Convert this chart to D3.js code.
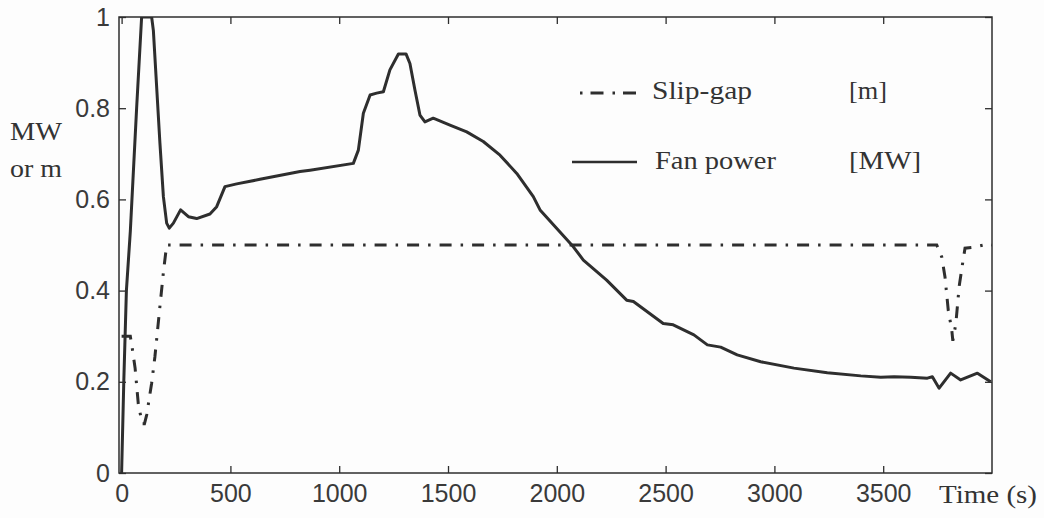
<!DOCTYPE html>
<html>
<head>
<meta charset="utf-8">
<script src="https://cdn.jsdelivr.net/npm/d3@7/dist/d3.min.js"></script>
<style>
  html, body { margin: 0; padding: 0; background: #fdfdfd; }
  svg { display: block; }
</style>
</head>
<body>
<svg id="chart" width="1044" height="518"></svg>
<script>
// Fan power [MW] over time [s]
const fanTime  = [0, 10, 22, 40, 69, 92, 138, 146, 176, 192, 207, 219, 238, 271, 307, 345, 406, 437, 475, 529, 636, 820, 866, 1065, 1088, 1111, 1142, 1172, 1203, 1233, 1272, 1307, 1325, 1348, 1371, 1394, 1432, 1509, 1586, 1662, 1739, 1816, 1892, 1923, 2076, 2122, 2229, 2321, 2352, 2489, 2535, 2630, 2692, 2753, 2829, 2937, 3090, 3243, 3397, 3489, 3550, 3627, 3703, 3726, 3757, 3810, 3856, 3933, 3994];
const fanPower = [0, 0.2, 0.4, 0.53, 0.8, 1.0, 1.0, 0.97, 0.724, 0.606, 0.548, 0.537, 0.548, 0.577, 0.562, 0.558, 0.568, 0.584, 0.628, 0.634, 0.644, 0.661, 0.664, 0.679, 0.708, 0.789, 0.829, 0.833, 0.836, 0.884, 0.919, 0.919, 0.898, 0.84, 0.785, 0.77, 0.778, 0.763, 0.748, 0.727, 0.697, 0.657, 0.606, 0.577, 0.496, 0.467, 0.423, 0.379, 0.376, 0.328, 0.325, 0.303, 0.281, 0.276, 0.259, 0.244, 0.23, 0.22, 0.213, 0.21, 0.211, 0.21, 0.208, 0.211, 0.186, 0.219, 0.204, 0.219, 0.2];

// Slip-gap [m] over time [s]
const slipTime = [0, 40, 50, 62, 77, 95, 105, 115, 138, 153, 176, 192, 207, 3746, 3769, 3784, 3799, 3815, 3820, 3834, 3849, 3865, 3876, 3914, 3983, 4000];
const slipGap  = [0.3, 0.3, 0.27, 0.23, 0.15, 0.108, 0.108, 0.127, 0.197, 0.255, 0.365, 0.44, 0.5, 0.5, 0.474, 0.43, 0.357, 0.314, 0.29, 0.328, 0.409, 0.46, 0.493, 0.495, 0.502, 0.5];

const xTicks = [0, 500, 1000, 1500, 2000, 2500, 3000, 3500];
const yTicks = [0, 0.2, 0.4, 0.6, 0.8, 1];
const yTickLabels = ["0", "0.2", "0.4", "0.6", "0.8", "1"];

const legendLabels = ["Slip-gap", "Fan power"];
const legendUnits = ["[m]", "[MW]"];
const yLabelLines = ["MW", "or m"];
const xLabel = "Time (s)";

const ink = "#2e2e2e";
const sansFont = "'Liberation Sans', Arial, Helvetica, sans-serif";
const serifFont = "'Liberation Serif', 'Times New Roman', Times, serif";
const svg = d3.select("#chart");

const plot = { left: 119, right: 992, top: 17, bottom: 473 };
const x = d3.scaleLinear().domain([-12, 4000]).range([plot.left, plot.right]);
const y = d3.scaleLinear().domain([0, 1]).range([plot.bottom, plot.top]);

svg.append("defs").append("clipPath").attr("id", "plotClip")
  .append("rect")
  .attr("x", plot.left).attr("y", plot.top)
  .attr("width", plot.right - plot.left).attr("height", plot.bottom - plot.top);

// Axes with inward ticks on all four sides
const tickLen = 7;
const fmtY = (d) => yTickLabels[yTicks.indexOf(d)];

const gBottom = svg.append("g").attr("transform", `translate(0,${plot.bottom})`)
  .call(d3.axisBottom(x).tickValues(xTicks).tickSizeInner(-tickLen).tickSizeOuter(0).tickPadding(11).tickFormat(d3.format("d")));
const gTop = svg.append("g").attr("transform", `translate(0,${plot.top})`)
  .call(d3.axisTop(x).tickValues(xTicks).tickSizeInner(-tickLen).tickSizeOuter(0).tickFormat(""));
const gLeft = svg.append("g").attr("transform", `translate(${plot.left},0)`)
  .call(d3.axisLeft(y).tickValues(yTicks).tickSizeInner(-tickLen).tickSizeOuter(0).tickPadding(9).tickFormat(fmtY));
const gRight = svg.append("g").attr("transform", `translate(${plot.right},0)`)
  .call(d3.axisRight(y).tickValues(yTicks).tickSizeInner(-tickLen).tickSizeOuter(0).tickFormat(""));

[gBottom, gTop, gLeft, gRight].forEach(g => {
  g.select(".domain").remove();
  g.attr("font-family", sansFont);
  g.selectAll(".tick line").attr("stroke", ink).attr("stroke-width", 1.3);
  g.selectAll(".tick text").attr("font-size", 25).attr("fill", "#3a3a3a");
});
gBottom.selectAll(".tick text").attr("dy", "0.71em");

// Plot frame
svg.append("rect")
  .attr("x", plot.left).attr("y", plot.top)
  .attr("width", plot.right - plot.left).attr("height", plot.bottom - plot.top)
  .attr("fill", "none").attr("stroke", ink).attr("stroke-width", 1.5);

const lineGen = d3.line().x(d => x(d[0])).y(d => y(d[1]));
const slipDash = "12,9,2.5,9";

const curves = svg.append("g").attr("clip-path", "url(#plotClip)");
curves.append("path")
  .datum(slipTime.map((t, i) => [t, slipGap[i]]))
  .attr("d", lineGen)
  .attr("fill", "none").attr("stroke", ink).attr("stroke-width", 3)
  .attr("stroke-dasharray", slipDash);
curves.append("path")
  .datum(fanTime.map((t, i) => [t, fanPower[i]]))
  .attr("d", lineGen)
  .attr("fill", "none").attr("stroke", ink).attr("stroke-width", 3)
  .attr("stroke-linejoin", "round");

// Serif text helper, stretched to the printed width
function serifText(px, py, size, width, str) {
  return svg.append("text")
    .attr("x", px).attr("y", py)
    .attr("font-family", serifFont)
    .attr("font-size", size)
    .attr("fill", "#333")
    .attr("textLength", width)
    .attr("lengthAdjust", "spacingAndGlyphs")
    .text(str);
}

// Legend
svg.append("line").attr("x1", 580).attr("x2", 643).attr("y1", 93).attr("y2", 93)
  .attr("stroke", ink).attr("stroke-width", 3).attr("stroke-dasharray", "2.5,8,13,9");
svg.append("line").attr("x1", 572).attr("x2", 637).attr("y1", 162).attr("y2", 162)
  .attr("stroke", ink).attr("stroke-width", 2.5);
serifText(652, 99, 26, 100, legendLabels[0]);
serifText(655, 169, 26, 121, legendLabels[1]);
serifText(849, 99, 26, 38, legendUnits[0]);
serifText(849, 169, 26, 72, legendUnits[1]);

// Axis titles
serifText(10, 140, 25, 52, yLabelLines[0]);
serifText(10, 177, 25, 52, yLabelLines[1]);
serifText(939, 503, 26, 98, xLabel);
</script>
</body>
</html>
